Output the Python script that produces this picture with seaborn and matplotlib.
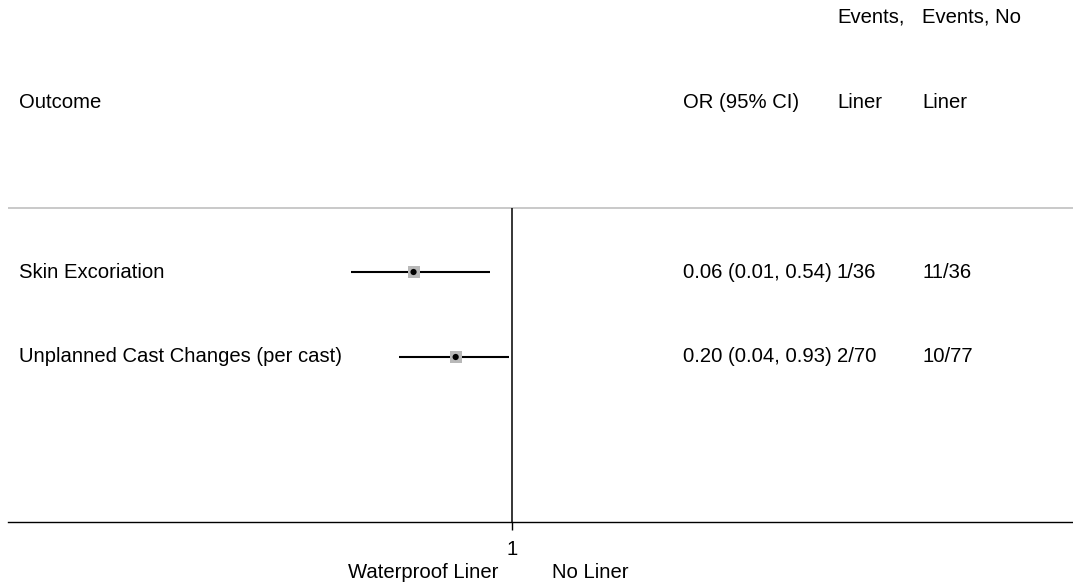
import numpy as np
import pandas as pd
import matplotlib
matplotlib.use("Agg")
import matplotlib.pyplot as plt
import matplotlib.transforms as mtransforms
import seaborn as sns

# Study outcomes: odds ratios with 95% confidence intervals
outcomes = ["Skin Excoriation", "Unplanned Cast Changes (per cast)"]
odds_ratio = [0.06, 0.20]
ci_low = [0.01, 0.04]
ci_high = [0.54, 0.93]
events_liner = ["1/36", "2/70"]
events_no_liner = ["11/36", "10/77"]

header_cols = ["Outcome", "OR (95% CI)", "Events,\n\nLiner", "Events, No\n\nLiner"]
left_label = "Waterproof Liner"
right_label = "No Liner"

df = pd.DataFrame({
    "outcome": outcomes,
    "or": odds_ratio,
    "lo": ci_low,
    "hi": ci_high,
    "row": np.arange(len(outcomes)) + 2,
})
df["label"] = [f"{o:.2f} ({l:.2f}, {h:.2f})" for o, l, h in zip(df["or"], df["lo"], df["hi"])]

sns.set_theme(style="white")
plt.rcParams["font.family"] = ["Liberation Sans", "DejaVu Sans"]
plt.rcParams["text.color"] = "black"
plt.rcParams["xtick.color"] = "black"
plt.rcParams["xtick.labelcolor"] = "black"
FS = 14.6

W, H = 1073, 586
fig = plt.figure(figsize=(W / 100, H / 100), dpi=100)
ax = fig.add_axes([8 / W, (H - 522) / H, 1065 / W, 522 / H])

# log-scaled effect axis, with the null value at the centre of the plot panel
px_per_ln = 35.0
ax.set_xscale("log")
ax.set_xlim(np.exp((8 - 512) / px_per_ln), np.exp((1073 - 512) / px_per_ln))
row_px = 85.0
ax.set_ylim((522 - 102) / row_px, (0 - 102) / row_px)

sep_y = (208 - 102) / row_px

# confidence intervals
ax.hlines(df["row"], df["lo"], df["hi"], color="black", lw=1.5, zorder=3)
# weight boxes and point estimates
sns.scatterplot(data=df, x="or", y="row", marker="s", s=75, color="#b8b8b8",
                edgecolor="none", ax=ax, zorder=4, legend=False)
sns.scatterplot(data=df, x="or", y="row", marker="o", s=20, color="black",
                edgecolor="none", ax=ax, zorder=5, legend=False)

# null line and header separator
ax.vlines(1, sep_y, (522 - 102) / row_px, color="black", lw=1.1, zorder=2)
ax.axhline(sep_y, color="#c0c0c0", lw=1.2, zorder=1)

for s in ["top", "left", "right"]:
    ax.spines[s].set_visible(False)
ax.spines["bottom"].set_color("black")
ax.spines["bottom"].set_linewidth(1.0)
ax.set_yticks([])
ax.set_xticks([1])
ax.set_xticklabels(["1"])
ax.xaxis.set_minor_locator(matplotlib.ticker.NullLocator())
ax.tick_params(axis="x", which="major", length=6, width=1.0, direction="out",
               color="black", labelcolor="black", labelsize=FS, pad=7, bottom=True)
ax.set_xlabel("")
ax.set_ylabel("")

# text columns (x in axes fraction, y in rows)
trans = mtransforms.blended_transform_factory(ax.transAxes, ax.transData)
col_x = [(px - 8) / 1065 for px in (19, 683, 837, 922)]

ax.text(col_x[0], 0, header_cols[0], transform=trans, ha="left", va="center", fontsize=FS)
ax.text(col_x[1], 0, header_cols[1], transform=trans, ha="left", va="center", fontsize=FS)
for cx, txt in zip(col_x[2:], header_cols[2:]):
    top, bottom = txt.split("\n\n")
    ax.text(cx, -1, top, transform=trans, ha="left", va="center", fontsize=FS)
    ax.text(cx, 0, bottom, transform=trans, ha="left", va="center", fontsize=FS)

for _, r in df.iterrows():
    ax.text(col_x[0], r["row"], r["outcome"], transform=trans, ha="left", va="center", fontsize=FS)
    ax.text(col_x[1], r["row"], r["label"], transform=trans, ha="left", va="center", fontsize=FS)
for i, r in df.iterrows():
    ax.text(col_x[2], r["row"], events_liner[i], transform=trans, ha="left", va="center", fontsize=FS)
    ax.text(col_x[3], r["row"], events_no_liner[i], transform=trans, ha="left", va="center", fontsize=FS)

# direction labels under the axis
ax.annotate(left_label, xy=(1, 0), xycoords=("data", "axes fraction"),
            xytext=(-14, -50), textcoords="offset pixels",
            ha="right", va="center", fontsize=FS)
ax.annotate(right_label, xy=(1, 0), xycoords=("data", "axes fraction"),
            xytext=(40, -50), textcoords="offset pixels",
            ha="left", va="center", fontsize=FS)

fig.savefig("out.png", dpi=100, facecolor="white")
